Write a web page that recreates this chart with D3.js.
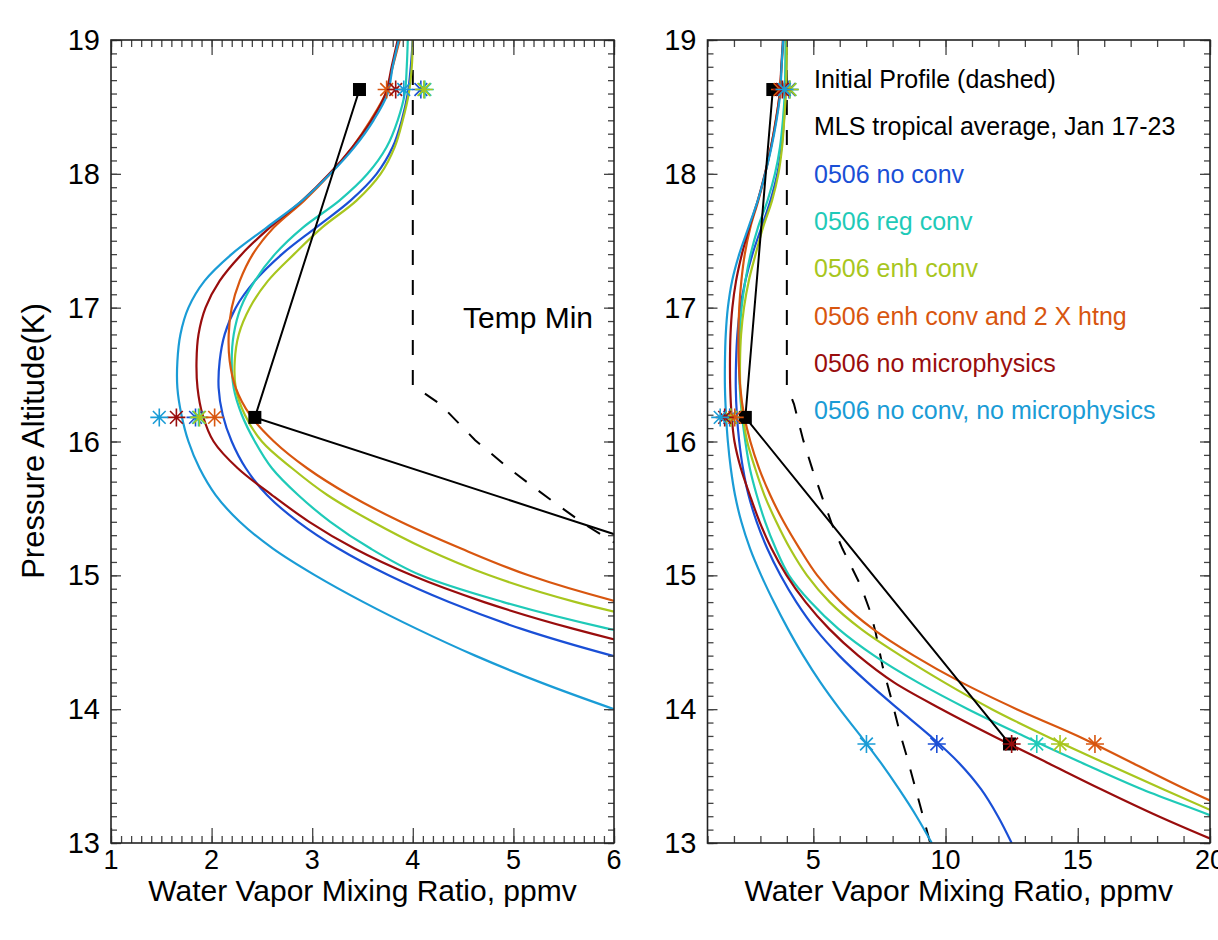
<!DOCTYPE html>
<html><head><meta charset="utf-8">
<script src="https://cdn.jsdelivr.net/npm/d3@7"></script>
<style>
body{margin:0;background:#fff;}
text{font-family:"Liberation Sans",Arial,Helvetica,sans-serif;}
</style>
</head><body>
<svg id="chart" width="1218" height="940"></svg>
<script>
// ---------------- data ----------------
const altitude = [19.0,18.8,18.6,18.4,18.2,18.0,17.8,17.6,17.4,17.2,17.0,16.8,16.6,16.4,16.2,16.0,15.8,15.6,15.4,15.2,15.0,14.8,14.6,14.4,14.2,14.0,13.8,13.6,13.4,13.2,13.0];
const noConv        = [4.00,3.98,3.95,3.89,3.80,3.64,3.38,3.04,2.70,2.43,2.24,2.13,2.08,2.07,2.11,2.20,2.34,2.55,2.86,3.26,3.76,4.36,5.08,5.98,7.05,8.22,9.42,10.50,11.35,11.98,12.50];
const regConv       = [3.95,3.94,3.92,3.85,3.74,3.55,3.27,2.91,2.63,2.43,2.29,2.22,2.20,2.22,2.30,2.43,2.60,2.86,3.18,3.58,4.08,4.90,5.95,7.30,8.95,10.85,12.95,15.15,17.45,20.10,22.60];
const enhConv       = [4.00,3.99,3.96,3.90,3.82,3.68,3.44,3.10,2.82,2.56,2.38,2.27,2.23,2.24,2.33,2.50,2.80,3.15,3.60,4.12,4.76,5.62,6.80,8.30,9.95,11.75,13.80,16.00,18.25,20.55,22.90];
const enhConv2x     = [3.87,3.80,3.73,3.58,3.40,3.18,2.92,2.62,2.41,2.28,2.20,2.17,2.18,2.24,2.38,2.62,2.95,3.37,3.88,4.48,5.15,6.05,7.25,8.80,10.60,12.69,15.00,17.05,19.10,21.30,23.50];
const noMicro       = [3.85,3.79,3.73,3.59,3.40,3.17,2.90,2.58,2.30,2.08,1.94,1.87,1.85,1.86,1.91,2.02,2.26,2.60,2.97,3.42,3.99,4.71,5.60,6.70,8.05,9.85,11.80,13.85,15.90,18.05,20.40];
const noConvNoMicro = [3.86,3.80,3.75,3.61,3.42,3.18,2.90,2.55,2.20,1.93,1.77,1.69,1.66,1.66,1.70,1.77,1.88,2.04,2.28,2.61,3.03,3.51,4.04,4.62,5.27,6.00,6.79,7.55,8.25,8.90,9.48];

const seriesLabels = ["0506 no conv","0506 reg conv","0506 enh conv","0506 enh conv and 2 X htng","0506 no microphysics","0506 no conv, no microphysics"];
const seriesColors = ["#1a4fd6","#1fcab8","#a8c61e","#d8560f","#990d0d","#1a9cd6"];

// model values at the MLS levels (asterisks)
const markerAlt = [18.63,16.18,13.74];
const noConvStars        = [4.08,1.84,9.67];
const regConvStars       = [4.12,1.87,13.45];
const enhConvStars       = [4.11,1.88,14.33];
const enhConv2xStars     = [3.74,2.03,15.65];
const noMicroStars       = [3.83,1.65,12.50];
const noConvNoMicroStars = [3.91,1.48,7.01];

// MLS tropical average (solid black with squares)
const mlsAlt = [18.63,16.18,13.74];
const mlsVal = [3.47,2.43,12.42];

// initial profile (dashed)
const initAlt = [19.0,16.42,16.28,16.01,15.79,15.57,15.38,15.20,14.92,14.72,14.57,14.32,14.07,13.82,13.65,13.28,13.0];
const initVal = [4.00,4.00,4.27,4.62,4.97,5.36,5.71,6.10,6.80,7.17,7.36,7.62,7.96,8.28,8.53,9.04,9.42];

const legendLines = ["Initial Profile (dashed)","MLS tropical average, Jan 17-23"];
const leftXTicks = [1,2,3,4,5,6];
const rightXTicks = [5,10,15,20];
const yTicks = [13,14,15,16,17,18,19];
const xTitle = "Water Vapor Mixing Ratio, ppmv";
const yTitle = "Pressure Altitude(K)";
const annotation = "Temp Min";

// ---------------- build ----------------
const seriesVals = [noConv,regConv,enhConv,enhConv2x,noMicro,noConvNoMicro];
const seriesStars = [noConvStars,regConvStars,enhConvStars,enhConv2xStars,noMicroStars,noConvNoMicroStars];
const series = seriesLabels.map((lab,i)=>({
  label:lab, color:seriesColors[i],
  pts: altitude.map((a,j)=>({a:a,v:seriesVals[i][j]})),
  stars: markerAlt.map((a,j)=>({a:a,v:seriesStars[i][j]}))
}));
const mls = mlsAlt.map((a,i)=>({a:a,v:mlsVal[i]}));
const init = initAlt.map((a,i)=>({a:a,v:initVal[i]}));

const svg = d3.select("#chart");
svg.append("rect").attr("width",1218).attr("height",940).attr("fill","#fff");

const Y0 = 40, Y1 = 843;
const y = d3.scaleLinear().domain([13,19]).range([Y1,Y0]);

const panels = [
  {id:"L", x0:111, x1:614, domain:[1,6], majors:leftXTicks, minors:d3.range(10,61,1).map(d=>d/10), labels:leftXTicks},
  {id:"R", x0:707.5, x1:1210, domain:[1,20], majors:rightXTicks, minors:d3.range(1,21,1), labels:rightXTicks}
];
const yMinors = d3.range(130,191,1).map(d=>d/10);

const starPath = (()=>{const r=9, d=r*0.7071;
  return `M${-r},0L${r},0M0,${-r}L0,${r}M${-d},${-d}L${d},${d}M${-d},${d}L${d},${-d}`;})();

panels.forEach((p,pi)=>{
  const x = d3.scaleLinear().domain(p.domain).range([p.x0,p.x1]);
  const g = svg.append("g");
  svg.append("clipPath").attr("id","clip"+p.id).append("rect")
    .attr("x",p.x0).attr("y",Y0).attr("width",p.x1-p.x0).attr("height",Y1-Y0);
  const plot = g.append("g").attr("clip-path",`url(#clip${p.id})`);

  // initial profile
  const lin = d3.line().x(d=>x(d.v)).y(d=>y(d.a));
  plot.append("path").datum(init).attr("d",lin).attr("fill","none")
    .attr("stroke","#000").attr("stroke-width",2).attr("stroke-dasharray","15,15");

  // model curves
  const smooth = d3.line().x(d=>x(d.v)).y(d=>y(d.a)).curve(d3.curveCatmullRom.alpha(0.5));
  series.forEach(s=>{
    plot.append("path").datum(s.pts).attr("d",smooth).attr("fill","none")
      .attr("stroke",s.color).attr("stroke-width",2.2);
  });

  // MLS
  plot.append("path").datum(mls).attr("d",lin).attr("fill","none")
    .attr("stroke","#000").attr("stroke-width",2);
  plot.selectAll(".sq").data(mls).enter().append("rect")
    .attr("x",d=>x(d.v)-6.5).attr("y",d=>y(d.a)-6.5).attr("width",13).attr("height",13).attr("fill","#000");

  // asterisks
  series.forEach(s=>{
    plot.selectAll(null).data(s.stars).enter().append("path")
      .attr("d",starPath).attr("transform",d=>`translate(${x(d.v)},${y(d.a)})`)
      .attr("fill","none").attr("stroke",s.color).attr("stroke-width",1.6);
  });

  // axes (ticks inward on all four sides)
  const tickCol = "#444";
  const addAxis = (axis, tr)=>{
    const a = g.append("g").attr("transform",tr).call(axis);
    a.select(".domain").remove();
    a.selectAll("line").attr("stroke",tickCol).attr("stroke-width",1.3);
    a.selectAll("text").remove();
  };
  addAxis(d3.axisBottom(x).tickValues(p.minors).tickSize(-7).tickFormat(""),`translate(0,${Y1})`);
  addAxis(d3.axisBottom(x).tickValues(p.majors).tickSize(-15).tickFormat(""),`translate(0,${Y1})`);
  addAxis(d3.axisTop(x).tickValues(p.minors).tickSize(-7).tickFormat(""),`translate(0,${Y0})`);
  addAxis(d3.axisTop(x).tickValues(p.majors).tickSize(-15).tickFormat(""),`translate(0,${Y0})`);
  addAxis(d3.axisLeft(y).tickValues(yMinors).tickSize(-6).tickFormat(""),`translate(${p.x0},0)`);
  addAxis(d3.axisLeft(y).tickValues(yTicks).tickSize(-10).tickFormat(""),`translate(${p.x0},0)`);
  addAxis(d3.axisRight(y).tickValues(yMinors).tickSize(-6).tickFormat(""),`translate(${p.x1},0)`);
  addAxis(d3.axisRight(y).tickValues(yTicks).tickSize(-10).tickFormat(""),`translate(${p.x1},0)`);

  g.append("rect").attr("x",p.x0).attr("y",Y0).attr("width",p.x1-p.x0).attr("height",Y1-Y0)
    .attr("fill","none").attr("stroke","#222").attr("stroke-width",1.6);

  // tick labels
  g.selectAll(".xl").data(p.labels).enter().append("text")
    .attr("x",d=>x(d)).attr("y",869).attr("text-anchor","middle")
    .attr("font-size",27).attr("fill","#000").text(d=>d);
  g.selectAll(".yl").data(yTicks).enter().append("text")
    .attr("x",p.x0-11).attr("y",d=>y(d)+10).attr("text-anchor","end")
    .attr("font-size",29).attr("fill","#000").text(d=>d);

  // x title
  g.append("text").attr("x",(p.x0+p.x1)/2).attr("y",901).attr("text-anchor","middle")
    .attr("font-size",30).attr("fill","#000").text(xTitle);

  if(pi===0){
    g.append("text").attr("x",463).attr("y",328).attr("font-size",30).attr("fill","#000").text(annotation);
  } else {
    const rows = legendLines.map(t=>({t:t,c:"#000"})).concat(series.map(s=>({t:s.label,c:s.color})));
    g.selectAll(".lg").data(rows).enter().append("text")
      .attr("x",814).attr("y",(d,i)=>88+i*47.3).attr("font-size",25)
      .attr("fill",d=>d.c).text(d=>d.t);
  }
});

// y title
svg.append("text").attr("transform","translate(44,441) rotate(-90)")
  .attr("text-anchor","middle").attr("font-size",31).attr("fill","#000").text(yTitle);
</script>
</body></html>
